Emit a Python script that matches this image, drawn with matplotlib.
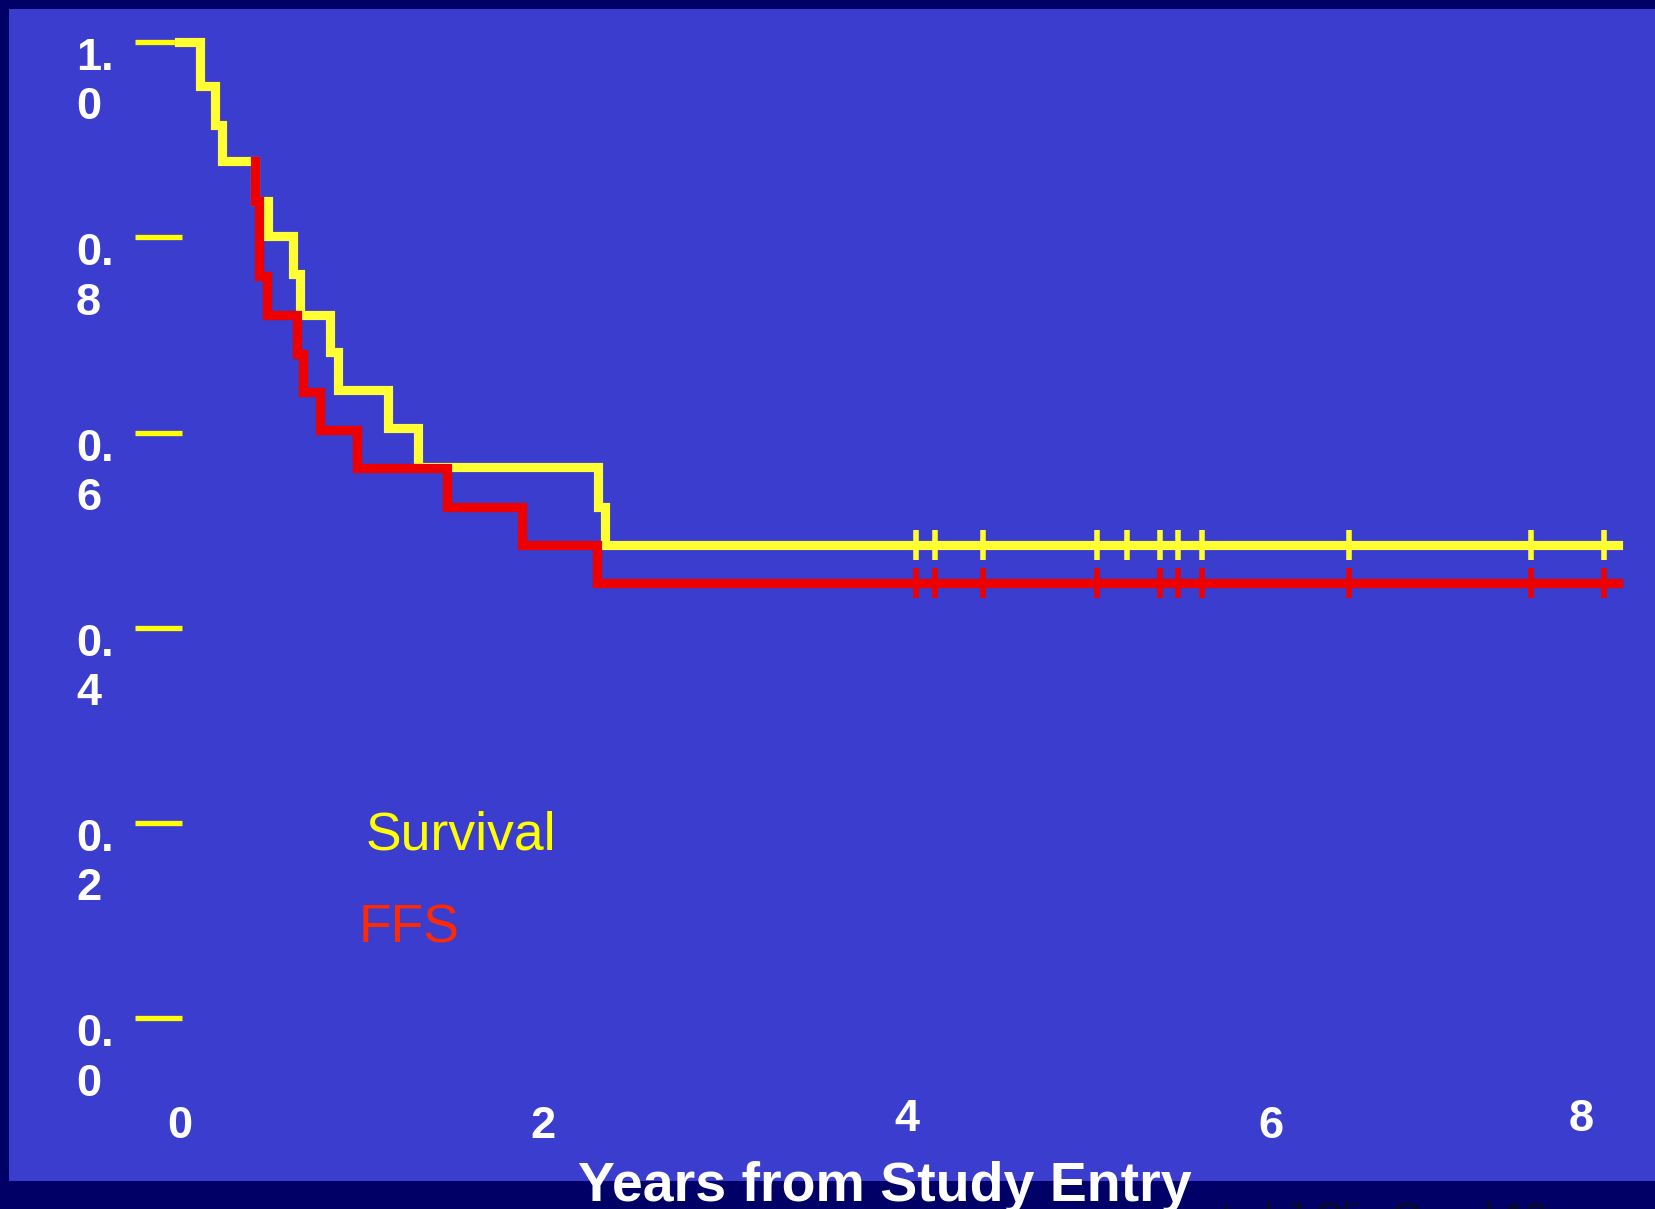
import numpy as np
import matplotlib
matplotlib.use("Agg")
import matplotlib.pyplot as plt
import matplotlib.transforms as mtransforms

# ---------------- data ----------------
surv_times  = [0.0, 0.113, 0.196, 0.232, 0.415, 0.488, 0.626, 0.663, 0.827, 0.873, 1.148, 1.313, 2.302, 2.338]
surv_values = [1.0, 0.955, 0.915, 0.878, 0.837, 0.801, 0.763, 0.721, 0.683, 0.644, 0.605, 0.565, 0.524, 0.485]
ffs_times   = [0.0, 0.113, 0.196, 0.232, 0.415, 0.440, 0.480, 0.645, 0.681, 0.773, 0.974, 1.469, 1.881, 2.293]
ffs_values  = [1.0, 0.955, 0.915, 0.878, 0.837, 0.760, 0.721, 0.681, 0.642, 0.603, 0.564, 0.524, 0.485, 0.446]
follow_up_end = 7.905
surv_censor = [4.046, 4.152, 4.414, 5.040, 5.208, 5.388, 5.488, 5.620, 6.426, 7.426, 7.829]
ffs_censor  = [4.046, 4.152, 4.414, 5.040, 5.388, 5.488, 5.620, 6.426, 7.426, 7.829]
y_ticks = [0.0, 0.2, 0.4, 0.6, 0.8, 1.0]
x_tick_labels = ["0", "2", "4", "6", "8"]
x_tick_positions = [0, 2, 4, 6, 7.7]
x_label_raise = [0, 0, 7, 0, 7]          # px, small vertical offsets seen on slide
series_labels = ["Survival", "FFS"]
x_title = "Years from Study Entry"
citation = "et al J Clin Oncol 19"

# ---------------- style ----------------
NAVY = "#000066"
BLUE = "#3b3dcf"
YELLOW = "#ffff33"
TICK_YELLOW = "#ffff00"
RED = "#ee0000"
FFS_TEXT = "#ff2a00"
FONT = "Liberation Sans"

W, H = 1655, 1209
fig = plt.figure(figsize=(W / 100, H / 100), dpi=100, facecolor=NAVY)
ax = fig.add_axes([9 / W, 28 / H, 1 - 9 / W, (1181 - 9) / H])
ax.set_facecolor(BLUE)
ax.set_xlim(-0.936, 8.108)
ax.set_ylim(-0.1665, 1.0340)
for s in ax.spines.values():
    s.set_visible(False)


def km_path(times, values, end):
    xs, ys = [times[0]], [values[0]]
    for i in range(1, len(times)):
        xs += [times[i], times[i]]
        ys += [values[i - 1], values[i]]
    xs.append(end)
    ys.append(values[-1])
    return np.array(xs), np.array(ys)


def km_value(times, values, t):
    idx = np.searchsorted(times, t, side="right") - 1
    return np.asarray(values)[idx]


sx, sy = km_path(surv_times, surv_values, follow_up_end)
fx, fy = km_path(ffs_times, ffs_values, follow_up_end)

LW = 6.6
# FFS drawn below survival where the two coincide, above it after they split
k = next(i for i in range(len(ffs_times))
         if ffs_times[i] != surv_times[i] or ffs_values[i] != surv_values[i])
split = ffs_times[k - 1]
ax.plot(fx, fy, color=RED, lw=LW, solid_joinstyle="miter", zorder=2)
ax.plot(sx, sy, color=YELLOW, lw=LW, solid_joinstyle="miter", zorder=3)
m = fx >= split
ax.plot(fx[m], fy[m], color=RED, lw=LW, solid_joinstyle="miter", zorder=4)

ax.plot(surv_censor, km_value(surv_times, surv_values, surv_censor), ls="none",
        marker="|", ms=21, mew=4, color=YELLOW, zorder=3.5)
ax.plot(ffs_censor, km_value(ffs_times, ffs_values, ffs_censor), ls="none",
        marker="|", ms=22, mew=4, color=RED, zorder=4.5)

# y axis: yellow tick dashes, labels written as "0.\n8"
ax.set_xticks([])
ax.set_yticks(y_ticks)
ax.spines["left"].set_position(("data", 0.014))
ax.tick_params(axis="y", direction="out", length=34, width=3.8,
               color=TICK_YELLOW, labelleft=False)

blend = mtransforms.blended_transform_factory(ax.transAxes, ax.transData)
for v in y_ticks:
    s = f"{v:.1f}"
    ax.annotate(s[:2] + "\n" + s[2:], xy=(0.0407, v), xycoords=blend,
                xytext=(0, 3.0), textcoords="offset points",
                ha="left", va="top", color="white", fontsize=32.5,
                fontweight="bold", family=FONT, linespacing=1.26)

for pos, lab, dy in zip(x_tick_positions, x_tick_labels, x_label_raise):
    ax.annotate(lab, xy=(pos, -0.122), xycoords="data",
                xytext=(0, dy * 0.72), textcoords="offset points",
                ha="center", va="baseline", color="white", fontsize=32.5,
                fontweight="bold", family=FONT)

# in-plot legend
ax.text(1.025, 0.173, series_labels[0], color=TICK_YELLOW, fontsize=38.5,
        family=FONT, ha="left", va="baseline", zorder=6)
ax.text(0.986, 0.078, series_labels[1], color=FFS_TEXT, fontsize=38.5,
        family=FONT, ha="left", va="baseline", zorder=6)

fig.text(884.5 / W, (H - 1201) / H, x_title, color="white", fontsize=40,
         fontweight="bold", family=FONT, ha="center", va="baseline")

# source line at the very bottom of the slide (mostly cut off, as in the original)
fig.text(1200 / W, (H - 1230) / H, citation, color="#0a0a20", fontsize=28,
         family=FONT, ha="left", va="baseline")

fig.savefig("out.png", dpi=100, facecolor=NAVY)
